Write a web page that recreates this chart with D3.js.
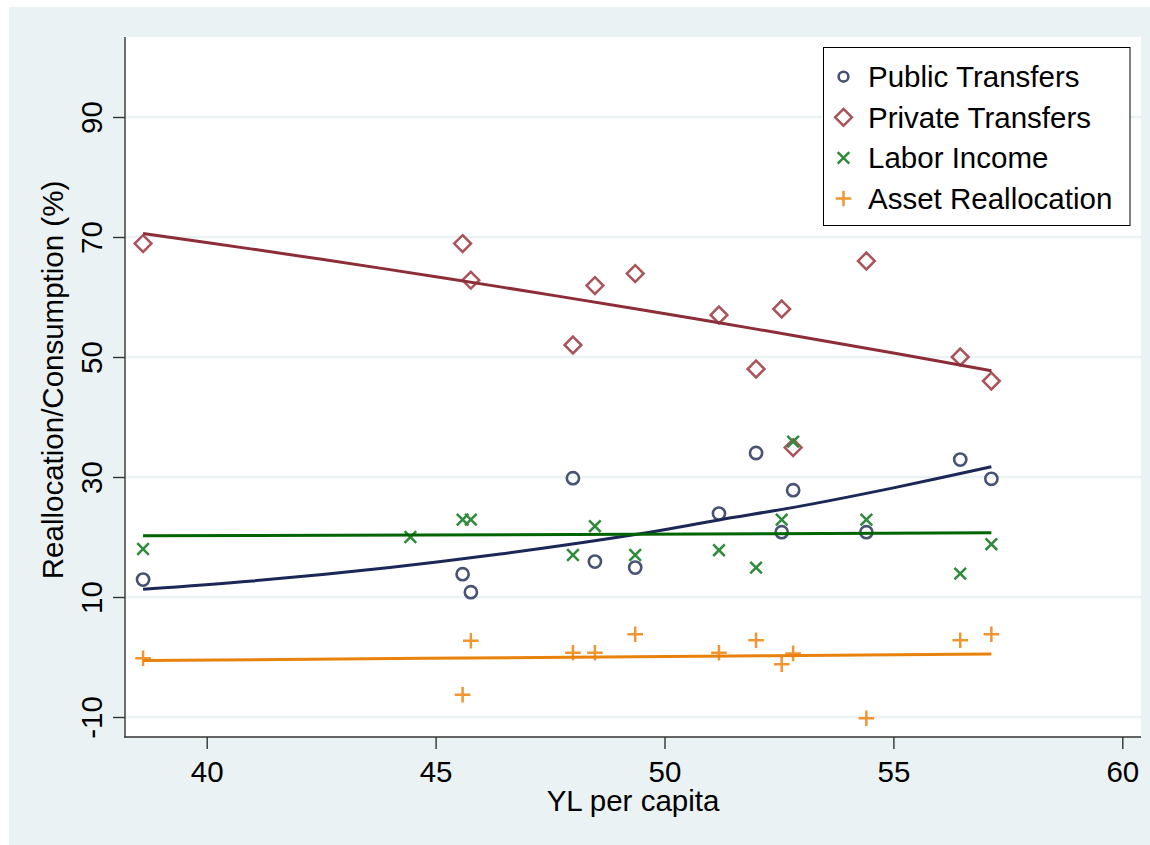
<!DOCTYPE html>
<html>
<head>
<meta charset="utf-8">
<script src="https://cdn.jsdelivr.net/npm/d3@7"></script>
<style>
  html, body { margin: 0; padding: 0; background: #ffffff; }
  svg { display: block; }
  text { font-family: "Liberation Sans", Arial, sans-serif; fill: #000; }
</style>
</head>
<body>
<svg id="chart" width="1150" height="845"></svg>
<script>
// YL per capita for each observation
const ylPerCapita = [38.61, 44.45, 45.59, 45.77, 48.0, 48.48, 49.36, 51.19, 52.0, 52.56, 52.81, 54.41, 56.46, 57.14];

// Reallocation / consumption shares (%) by source
const publicTransfers   = [12.9, null, 13.8, 10.8, 29.8, 15.9, 14.9, 23.9, 34.0, 20.8, 27.8, 20.8, 32.9, 29.7];
const privateTransfers  = [68.9, null, 68.9, 62.8, 52.0, 61.9, 63.9, 57.0, 48.0, 58.0, 34.9, 66.0, 50.0, 46.0];
const laborIncome       = [18.0, 20.0, 22.9, 22.9, 17.0, 21.8, 17.0, 17.8, 14.9, 22.9, 35.9, 22.9, 13.9, 18.8];
const assetReallocation = [-0.2, null, -6.3, 2.7, 0.7, 0.7, 3.8, 0.7, 2.8, -1.2, 0.6, -10.2, 2.8, 3.8];

// Fitted curves, evaluated along YL per capita
const fitX          = [38.61, 41, 44, 46.41, 49.36, 51.19, 53, 55, 57.14];
const publicFit     = [11.3, 12.67, 14.92, 17.15, 20.4, 22.85, 25.19, 28.19, 31.7];
const privateFit    = [70.6, 67.98, 64.56, 61.69, 58.05, 55.71, 53.34, 50.66, 47.7];
const laborFitX     = [38.61, 49.36, 57.14];
const laborFit      = [20.2, 20.45, 20.7];
const assetFitX     = [38.61, 49.36, 57.14];
const assetFit      = [-0.6, 0.05, 0.5];

// Axis ticks
const xTicks = [40, 45, 50, 55, 60];
const yTicks = [-10, 10, 30, 50, 70, 90];

const seriesNames = ["Public Transfers", "Private Transfers", "Labor Income", "Asset Reallocation"];

const svg = d3.select("#chart");
const W = 1150, H = 845;

// Layout
const plot = { left: 125, right: 1141, top: 37, bottom: 737 };
const x = d3.scaleLinear().domain([40, 60]).range([206.7, 1122.3]);
const y = d3.scaleLinear().domain([-10, 90]).range([717, 117]);

const BG = "#eaf2f3";
const FS = 29.5;
// plain hyphen for negative numbers
const fmt = d => String(d);

// Graph region
svg.append("rect").attr("x", 9).attr("y", 7).attr("width", W - 9).attr("height", H - 7).attr("fill", BG);
// Plot region
svg.append("rect").attr("x", plot.left).attr("y", plot.top)
  .attr("width", plot.right - plot.left).attr("height", plot.bottom - plot.top).attr("fill", "#ffffff");

// Grid lines
svg.append("g").selectAll("line").data(yTicks).join("line")
  .attr("x1", plot.left).attr("x2", plot.right)
  .attr("y1", d => y(d)).attr("y2", d => y(d))
  .attr("stroke", BG).attr("stroke-width", 2.7);

// Y axis
const yAxis = d3.axisLeft(y).tickValues(yTicks).tickSize(12).tickFormat(fmt);
const gy = svg.append("g").attr("transform", `translate(${plot.left},0)`).call(yAxis);
gy.select(".domain").remove();
gy.append("line").attr("x1", 0).attr("x2", 0).attr("y1", plot.top).attr("y2", plot.bottom + 0.7)
  .attr("stroke", "#333").attr("stroke-width", 1.4);
gy.selectAll(".tick line").attr("stroke", "#333").attr("stroke-width", 1.4);
gy.selectAll(".tick text")
  .attr("x", null).attr("dy", null)
  .attr("text-anchor", "middle")
  .attr("transform", `translate(-23.3,0) rotate(-90)`)
  .attr("y", 0)
  .style("font-family", '"Liberation Sans", Arial, sans-serif')
  .style("font-size", FS + "px").attr("fill", "#000");

// X axis
const xAxis = d3.axisBottom(x).tickValues(xTicks).tickSize(12).tickFormat(fmt);
const gx = svg.append("g").attr("transform", `translate(0,${plot.bottom})`).call(xAxis);
gx.select(".domain").remove();
gx.append("line").attr("x1", plot.left - 0.7).attr("x2", plot.right).attr("y1", 0).attr("y2", 0)
  .attr("stroke", "#333").attr("stroke-width", 1.4);
gx.selectAll(".tick line").attr("stroke", "#333").attr("stroke-width", 1.4);
gx.selectAll(".tick text")
  .attr("y", 45).attr("dy", null)
  .style("font-family", '"Liberation Sans", Arial, sans-serif')
  .style("font-size", FS + "px").attr("fill", "#000");

// Axis titles
svg.append("text").attr("x", (plot.left + plot.right) / 2).attr("y", 810.5)
  .attr("text-anchor", "middle").style("font-size", FS + "px").text("YL per capita");
svg.append("text").attr("transform", "translate(63,380) rotate(-90)")
  .attr("text-anchor", "middle").style("font-size", FS + "px").text("Reallocation/Consumption (%)");

// Marker drawing helpers
const styles = [
  { marker: "circle",  color: "#485274", line: "#1b2756" },
  { marker: "diamond", color: "#a9545a", line: "#8c2d38" },
  { marker: "x",       color: "#2f8a3a", line: "#006400" },
  { marker: "plus",    color: "#ef9632", line: "#e8820c" }
];

function drawMarker(g, kind, cx, cy, color, scale = 1) {
  const sw = 2.5;
  if (kind === "circle") {
    g.append("circle").attr("cx", cx).attr("cy", cy).attr("r", 6.1 * scale)
      .attr("fill", "none").attr("stroke", color).attr("stroke-width", 2.6);
  } else if (kind === "diamond") {
    const r = 8.4 * scale;
    g.append("path").attr("d", `M${cx},${cy - r}L${cx + r},${cy}L${cx},${cy + r}L${cx - r},${cy}Z`)
      .attr("fill", "none").attr("stroke", color).attr("stroke-width", sw);
  } else if (kind === "x") {
    const r = 5.8 * scale;
    g.append("path").attr("d", `M${cx - r},${cy - r}L${cx + r},${cy + r}M${cx - r},${cy + r}L${cx + r},${cy - r}`)
      .attr("stroke", color).attr("stroke-width", sw).attr("fill", "none");
  } else {
    const r = 7.8 * scale;
    g.append("path").attr("d", `M${cx - r},${cy}L${cx + r},${cy}M${cx},${cy - r}L${cx},${cy + r}`)
      .attr("stroke", color).attr("stroke-width", sw).attr("fill", "none");
  }
}

// Scatter points
const seriesData = [publicTransfers, privateTransfers, laborIncome, assetReallocation];
const pts = svg.append("g");
seriesData.forEach((vals, si) => {
  vals.forEach((v, i) => {
    if (v === null) return;
    drawMarker(pts, styles[si].marker, x(ylPerCapita[i]), y(v), styles[si].color);
  });
});

// Fitted curves
const lineGen = d3.line().x(d => x(d[0])).y(d => y(d[1])).curve(d3.curveCatmullRom);
const fits = [
  d3.zip(fitX, publicFit),
  d3.zip(fitX, privateFit),
  d3.zip(laborFitX, laborFit),
  d3.zip(assetFitX, assetFit)
];
const fitG = svg.append("g");
fits.forEach((pts, si) => {
  fitG.append("path").attr("d", lineGen(pts)).attr("fill", "none")
    .attr("stroke", styles[si].line).attr("stroke-width", 3);
});

// Legend
const leg = svg.append("g");
leg.append("rect").attr("x", 823.5).attr("y", 47.5).attr("width", 306.5).attr("height", 178)
  .attr("fill", "#ffffff").attr("stroke", "#000").attr("stroke-width", 1);
seriesNames.forEach((name, i) => {
  const cy = 76.7 + i * 40.6;
  drawMarker(leg, styles[i].marker, 843.5, cy, styles[i].color, i === 0 ? 0.8 : 1);
  leg.append("text").attr("x", 868).attr("y", cy + 10.3).style("font-size", FS + "px").text(name);
});
</script>
</body>
</html>
